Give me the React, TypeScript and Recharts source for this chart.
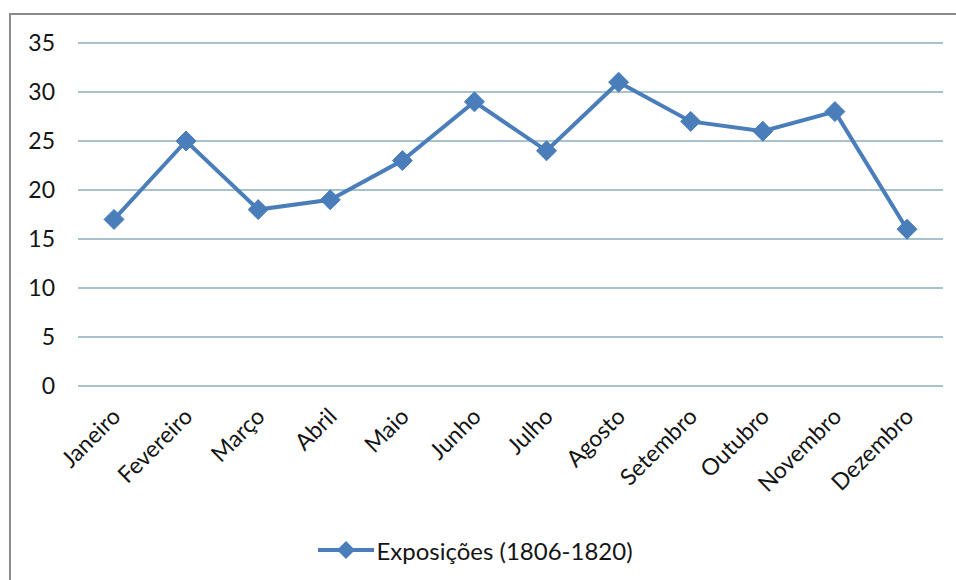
import React from 'react';
import { LineChart, Line, XAxis, YAxis, CartesianGrid, Legend } from 'recharts';

const months = [
  'Janeiro', 'Fevereiro', 'Março', 'Abril', 'Maio', 'Junho',
  'Julho', 'Agosto', 'Setembro', 'Outubro', 'Novembro', 'Dezembro',
];
const exposicoes = [17, 25, 18, 19, 23, 29, 24, 31, 27, 26, 28, 16];
const yTicks = [0, 5, 10, 15, 20, 25, 30, 35];
const seriesName = 'Exposições (1806-1820)';

const data = months.map((m, i) => ({ month: m, value: exposicoes[i] }));

const BLUE = '#4a7ebb';
const TEXT = '#141414';
const FONT = 'Lato, "Open Sans", sans-serif';

const Diamond = (props: any) => {
  const { cx, cy } = props;
  if (cx == null || cy == null) return null;
  const r = 10;
  return (
    <polygon
      points={`${cx},${cy - r} ${cx + r},${cy} ${cx},${cy + r} ${cx - r},${cy}`}
      fill={BLUE}
      stroke={BLUE}
    />
  );
};

const MonthTick = (props: any) => {
  const { x, y, payload } = props;
  const ax = x + 8;
  const ay = y + 24;
  return (
    <text
      x={ax}
      y={ay}
      transform={`rotate(-45, ${ax}, ${ay})`}
      textAnchor="end"
      fill={TEXT}
      fontSize={23}
      fontFamily={FONT}
    >
      {payload.value}
    </text>
  );
};

const LegendContent = () => (
  <div
    style={{
      display: 'flex',
      justifyContent: 'center',
      alignItems: 'center',
      height: 60,
      fontFamily: FONT,
    }}
  >
    <svg width={56} height={20}>
      <line x1={0} y1={10} x2={56} y2={10} stroke={BLUE} strokeWidth={4} />
      <polygon points="28,1 37,10 28,19 19,10" fill={BLUE} />
    </svg>
    <span style={{ fontSize: 24, color: TEXT, marginLeft: 2 }}>{seriesName}</span>
  </div>
);

export default function App() {
  return (
    <div style={{ position: 'fixed', left: 0, top: 0, width: 956, height: 580, background: '#fff', overflow: 'hidden' }}>
      <div
        style={{
          position: 'absolute',
          left: 9,
          top: 13,
          width: 960,
          height: 600,
          borderLeft: '2px solid #8a8a8a',
          borderTop: '2px solid #8a8a8a',
        }}
      />
      <LineChart
        width={956}
        height={580}
        data={data}
        margin={{ top: 43, right: 13, left: 8, bottom: 0 }}
        style={{ position: 'absolute', left: 0, top: 0 }}
      >
        <CartesianGrid horizontal vertical={false} stroke="#8aaebf" strokeWidth={1.5} />
        <XAxis
          dataKey="month"
          interval={0}
          padding={{ left: 36, right: 36 }}
          tick={<MonthTick />}
          tickLine={false}
          axisLine={false}
          height={134}
        />
        <YAxis
          domain={[0, 35]}
          ticks={yTicks}
          width={70}
          tickLine={false}
          axisLine={false}
          tickSize={0}
          tickMargin={23}
          tick={{ fill: TEXT, fontSize: 23, fontFamily: FONT }}
        />
        <Legend verticalAlign="bottom" content={<LegendContent />} wrapperStyle={{ height: 60 }} />
        <Line
          type="linear"
          dataKey="value"
          name={seriesName}
          stroke={BLUE}
          strokeWidth={4}
          dot={<Diamond />}
          activeDot={false}
          isAnimationActive={false}
        />
      </LineChart>
    </div>
  );
}
